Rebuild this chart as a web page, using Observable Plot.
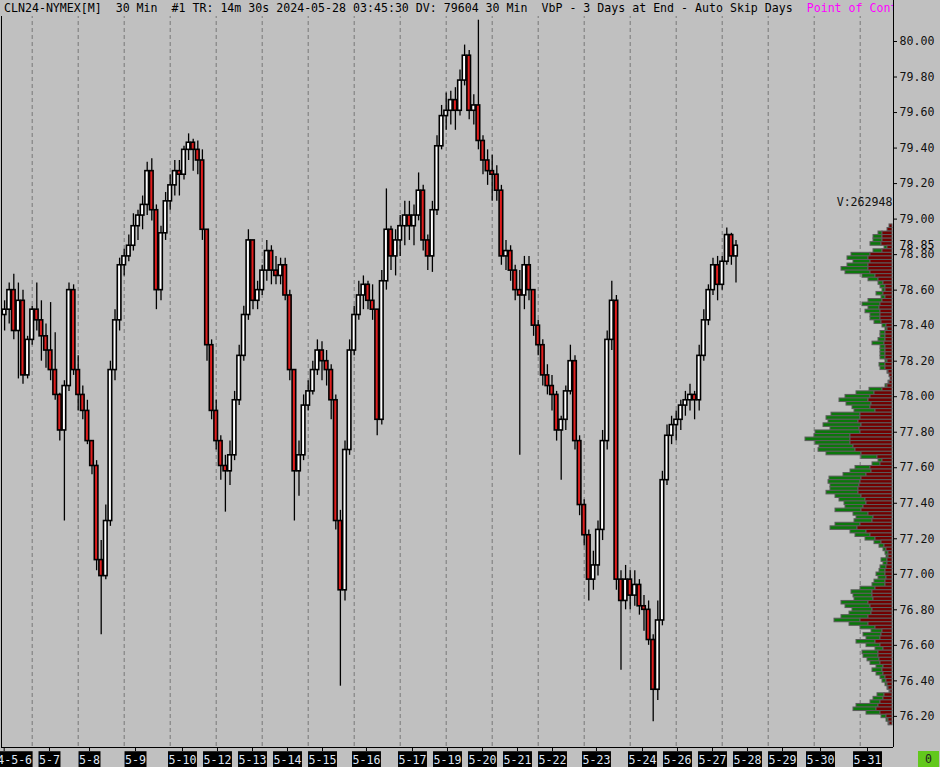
<!DOCTYPE html>
<html><head><meta charset="utf-8">
<script src="https://cdn.jsdelivr.net/npm/d3@7"></script>
<script src="https://cdn.jsdelivr.net/npm/@observablehq/plot@0.6"></script>
<style>
html,body{margin:0;padding:0;background:#c0c0c0;}
#wrap{position:relative;width:940px;height:767px;overflow:hidden;background:#c0c0c0;font-family:"DejaVu Sans Mono",monospace;}
#wrap svg{position:absolute;left:0;top:0;}
#title{position:absolute;left:0;top:0;width:889px;padding-left:4px;height:16px;line-height:16px;font-size:11.6px;white-space:pre;overflow:hidden;background:#c0c0c0;color:#000;z-index:5;}
#title .poc{color:#ff00ff;}
#zero{position:absolute;left:918px;top:751px;width:21px;height:16px;background:#62c81c;color:#222;font-size:11.6px;line-height:16px;text-align:center;z-index:5;}
</style></head>
<body><div id="wrap"></div>
<script>
// ---- candle data (30-min chart, read at reduced resolution) ----
const firstOpen = 78.46;
const highs = [78.54,78.64,78.69,78.64,78.60,78.34,78.51,78.64,78.54,78.41,
78.53,78.36,78.02,78.09,78.64,78.63,78.23,78.06,77.98,77.75,
77.64,77.19,77.39,78.20,78.49,78.78,78.83,78.91,79.03,79.05,
79.13,79.32,79.34,79.08,78.96,79.15,79.25,79.33,79.33,79.41,
79.48,79.45,79.44,79.39,78.94,78.32,77.98,77.78,77.67,77.75,
78.03,78.29,78.51,78.94,78.88,78.65,78.74,78.88,78.85,78.79,
78.78,78.78,78.60,78.15,77.75,78.01,78.09,78.20,78.32,78.31,
78.26,78.18,78.01,77.36,77.75,78.32,78.51,78.65,78.68,78.65,
78.63,78.49,78.71,79.17,78.96,78.94,79.02,79.10,79.10,79.08,
79.26,79.19,78.91,79.10,79.47,79.64,79.71,79.72,79.74,79.84,
79.98,79.95,79.70,80.12,79.47,79.39,79.36,79.30,79.19,78.88,
78.85,78.74,78.71,78.79,78.79,78.60,78.43,78.32,78.18,78.12,
78.03,77.89,78.06,78.29,78.23,77.78,77.42,77.25,77.13,77.30,
77.81,78.37,78.65,78.57,77.02,77.05,77.02,77.02,76.97,76.88,
76.85,76.66,76.85,77.58,77.84,77.89,77.92,77.98,78.03,78.07,
78.03,78.29,78.49,78.63,78.78,78.79,78.79,78.95,78.92,78.88];
const lows = [78.37,78.41,78.32,78.10,78.07,78.10,78.29,78.37,78.20,78.16,
78.09,77.98,77.75,77.30,78.03,78.12,77.92,77.87,77.73,77.56,
77.02,76.66,76.97,77.27,78.09,78.37,78.68,78.76,78.82,78.88,
78.94,79.02,78.99,78.49,78.54,78.88,79.05,79.13,79.13,79.22,
79.33,79.27,79.25,78.88,78.20,77.87,77.70,77.53,77.35,77.50,
77.64,77.95,78.20,78.43,78.49,78.49,78.57,78.65,78.63,78.63,
78.63,78.54,78.09,77.30,77.44,77.64,77.92,78.01,78.12,78.09,
78.06,77.87,77.25,76.37,76.85,77.67,78.23,78.43,78.49,78.49,
78.43,77.78,77.84,78.60,78.71,78.68,78.79,78.85,78.88,78.85,
78.99,78.82,78.71,78.70,79.02,79.39,79.50,79.53,79.50,79.58,
79.75,79.56,79.53,79.39,79.25,79.19,79.10,79.10,78.74,78.71,
78.65,78.54,77.67,78.49,78.54,78.34,78.23,78.06,78.01,77.92,
77.75,77.53,77.81,78.01,77.70,77.33,77.16,76.85,76.91,76.99,
77.19,77.70,78.26,76.91,76.46,76.80,76.80,76.82,76.77,76.68,
76.60,76.17,76.29,76.71,77.50,77.73,77.75,77.81,77.89,77.92,
77.87,77.92,78.20,78.40,78.57,78.54,78.60,78.74,78.74,78.64];
const closes = [78.49,78.60,78.37,78.54,78.12,78.32,78.49,78.43,78.34,78.26,
78.15,78.01,77.81,78.06,78.60,78.15,78.01,77.92,77.75,77.61,
77.08,76.99,77.30,78.15,78.43,78.74,78.79,78.85,78.96,79.02,
79.08,79.27,79.05,78.60,78.92,79.10,79.19,79.27,79.25,79.39,
79.43,79.39,79.33,78.94,78.29,77.92,77.75,77.61,77.58,77.67,
77.98,78.23,78.46,78.88,78.54,78.60,78.71,78.82,78.71,78.68,
78.74,78.57,78.15,77.58,77.67,77.95,78.03,78.15,78.26,78.20,
78.15,77.98,77.30,76.91,77.70,78.26,78.46,78.57,78.63,78.54,
78.49,77.87,78.65,78.94,78.79,78.88,78.96,79.02,78.96,79.02,
79.16,78.88,78.79,79.05,79.41,79.58,79.61,79.67,79.61,79.78,
79.92,79.61,79.64,79.44,79.33,79.27,79.25,79.16,78.79,78.82,
78.71,78.60,78.57,78.74,78.60,78.40,78.29,78.12,78.06,78.01,
77.81,77.87,78.03,78.20,77.75,77.39,77.22,76.97,77.05,77.25,
77.75,78.32,78.54,76.97,76.85,76.97,76.88,76.94,76.82,76.80,
76.63,76.35,76.74,77.53,77.78,77.84,77.87,77.95,77.98,78.01,
77.98,78.23,78.43,78.60,78.74,78.63,78.76,78.91,78.79,78.85];

// ---- axes ----
const gridTicks = [6.5,16.5,26.5,36.5,46.5,56.5,66.5,76.5,86.5,96.5,106.5,116.5,126.5,136.5,146.5,156.5,166.5,176.5,186.5];
const dateTicks = [0.41,10.26,18.96,28.96,39.17,46.78,54.39,62.0,69.61,79.17,89.17,96.78,104.39,112.0,119.61,129.17,139.17,146.78,154.39,162.0,169.61,177.87,188.09];
const dateLabels = ["2024-5-6","5-7","5-8","5-9","5-10","5-12","5-13","5-14","5-15","5-16","5-17","5-19","5-20","5-21","5-22","5-23","5-24","5-26","5-27","5-28","5-29","5-30","5-31"];
const priceTicks = [76.2,76.4,76.6,76.8,77.0,77.2,77.4,77.6,77.8,78.0,78.2,78.4,78.6,78.8,79.0,79.2,79.4,79.6,79.8,80.0];

// ---- volume by price (3 days at end) ----
const vpPrice = [78.96,78.94,78.92,78.90,78.88,78.86,78.84,78.82,78.80,78.78,
78.76,78.74,78.72,78.70,78.68,78.66,78.64,78.62,78.60,78.58,
78.56,78.54,78.52,78.50,78.48,78.46,78.44,78.42,78.40,78.38,
78.36,78.34,78.32,78.30,78.28,78.26,78.24,78.22,78.20,78.18,
78.16,78.14,78.12,78.10,78.08,78.06,78.04,78.02,78.00,77.98,
77.96,77.94,77.92,77.90,77.88,77.86,77.84,77.82,77.80,77.78,
77.76,77.74,77.72,77.70,77.68,77.66,77.64,77.62,77.60,77.58,
77.56,77.54,77.52,77.50,77.48,77.46,77.44,77.42,77.40,77.38,
77.36,77.34,77.32,77.30,77.28,77.26,77.24,77.22,77.20,77.18,
77.16,77.14,77.12,77.10,77.08,77.06,77.04,77.02,77.00,76.98,
76.96,76.94,76.92,76.90,76.88,76.86,76.84,76.82,76.80,76.78,
76.76,76.74,76.72,76.70,76.68,76.66,76.64,76.62,76.60,76.58,
76.56,76.54,76.52,76.50,76.48,76.46,76.44,76.42,76.40,76.38,
76.36,76.34,76.32,76.30,76.28,76.26,76.24,76.22,76.20,76.18,
76.16];
const vpTotal = [3,5,14,19,19,22,8,19,41,45,
39,45,51,47,30,24,14,12,10,16,
11,24,30,24,27,22,22,18,10,7,
12,12,14,20,12,12,12,12,7,13,
12,5,3,2,4,7,23,36,47,53,
46,40,38,61,66,64,69,62,77,78,
87,77,73,74,66,31,14,20,37,42,
49,63,64,62,62,66,57,53,48,47,
57,39,36,38,57,62,42,37,27,18,
13,9,7,6,11,9,12,13,16,14,
18,20,32,41,39,38,51,47,40,43,
51,58,43,32,21,29,26,36,26,17,
30,29,25,22,16,20,16,12,10,7,
5,3,15,19,22,36,39,26,11,6,
4];
const vpSell = [3,5,10,10,10,11,5,10,22,24,
22,24,24,22,17,14,9,7,7,9,
7,10,12,13,12,12,12,11,6,5,
7,7,7,8,7,7,7,7,5,7,
7,4,3,2,3,5,10,18,22,24,
21,22,17,32,32,34,31,33,32,42,
42,42,39,37,31,15,10,12,22,21,
26,31,32,33,34,34,31,27,26,29,
31,24,19,20,32,35,26,22,17,11,
8,6,4,4,5,5,6,7,7,6,
7,7,17,20,20,19,24,22,20,21,
24,32,24,17,10,11,12,17,12,9,
14,14,13,12,9,10,9,7,6,5,
4,2,8,9,12,14,16,12,6,4,
3];
const totalVolumeLabel = "V:262948";

// ---- build ----
const bars = closes.map((c, i) => ({t: i, open: i === 0 ? firstOpen : closes[i - 1], high: highs[i], low: lows[i], close: c}));
const up = bars.filter(d => d.close >= d.open);
const down = bars.filter(d => d.close < d.open);
const vp = vpPrice.map((p, i) => ({price: p, total: vpTotal[i], sell: vpSell[i]}));
const labelMap = new Map(dateTicks.map((t, i) => [t, dateLabels[i]]));

const yDomain = [76.0248, 80.2309];
const xDomain = [-0.174, 193.74];
const FONT = "DejaVu Sans Mono";
const common = {width: 940, height: 767, marginLeft: 1, marginRight: 47, marginTop: 0, marginBottom: 20};

const wrap = document.getElementById("wrap");

const bodyOpts = {x1: "t", x2: d => d.t + 1, y1: "open", y2: "close", insetLeft: 0.5, insetRight: 0.5, stroke: "#000", strokeWidth: 1.6};

const p1 = Plot.plot({
  ...common,
  style: {background: "#c0c0c0", fontFamily: FONT, fontSize: "11.6px", overflow: "visible"},
  x: {domain: xDomain, label: null},
  y: {domain: yDomain, label: null},
  marks: [
    Plot.ruleX(gridTicks, {stroke: "#777", strokeDasharray: "4,3"}),
    Plot.ruleX(bars, {x: d => d.t + 0.5, y1: "low", y2: "high", stroke: "#000", strokeWidth: 1.3}),
    Plot.rect(up, {...bodyOpts, fill: "#fff"}),
    Plot.rect(down, {...bodyOpts, fill: "#e01e1e"}),
    Plot.ruleX([xDomain[0], xDomain[1]], {stroke: "#000"}),
    Plot.ruleY([yDomain[0]], {stroke: "#000"}),
    Plot.axisY(priceTicks, {anchor: "right", tickSize: 3, tickPadding: 3, tickFormat: d => d.toFixed(2), fill: "#111", stroke: "#000", label: null}),
    Plot.axisX(dateTicks, {anchor: "bottom", tickSize: 4, tickPadding: 4, tickFormat: d => labelMap.get(d), fill: "#dfe6f5", stroke: "#000", label: null}),
    Plot.text([bars[bars.length - 1]], {y: "close", frameAnchor: "right", dx: 6, textAnchor: "start", text: d => d.close.toFixed(2), fill: "#000", ariaLabel: "last-price"})
  ]
});
wrap.appendChild(p1);

// label boxes behind date labels and the last price
function boxBehind(selector, color, px, py) {
  d3.select(p1).selectAll(selector).each(function () {
    const b = this.getBBox();
    const r = document.createElementNS("http://www.w3.org/2000/svg", "rect");
    r.setAttribute("x", b.x - px);
    r.setAttribute("y", b.y - py);
    r.setAttribute("width", b.width + 2 * px);
    r.setAttribute("height", b.height + 2 * py);
    r.setAttribute("fill", color);
    const tr = this.getAttribute("transform");
    if (tr) r.setAttribute("transform", tr);
    this.parentNode.insertBefore(r, this);
  });
}
boxBehind('g[aria-label="x-axis tick label"] text', "#000", 0.5, 1.5);
boxBehind('g[aria-label="last-price"] text', "#fff", 2, 0.8);

const p2 = Plot.plot({
  ...common,
  style: {background: "transparent", fontFamily: FONT, fontSize: "11.6px", overflow: "visible"},
  x: {domain: [0, 100], range: [892, 792], axis: null},
  y: {domain: yDomain, axis: null},
  marks: [
    Plot.rect(vp.filter(d => d.total > d.sell), {x1: "sell", x2: "total", y1: d => d.price - 0.01, y2: d => d.price + 0.01, fill: "#0b780b", stroke: "#5c5c5c", strokeWidth: 1}),
    Plot.rect(vp, {x1: 0, x2: "sell", y1: d => d.price - 0.01, y2: d => d.price + 0.01, fill: "#720000", stroke: "#5c5c5c", strokeWidth: 1}),
    Plot.text([vp[0]], {x: 0, y: "price", dy: -24, textAnchor: "end", text: () => totalVolumeLabel, fill: "#111"})
  ]
});
wrap.appendChild(p2);

const title = document.createElement("div");
title.id = "title";
title.innerHTML = 'CLN24-NYMEX[M]  30 Min  #1 TR: 14m 30s 2024-05-28 03:45:30 DV: 79604 30 Min  VbP - 3 Days at End - Auto Skip Days  <span class="poc">Point of Control</span>';
wrap.appendChild(title);

const zero = document.createElement("div");
zero.id = "zero";
zero.textContent = "0";
wrap.appendChild(zero);
</script>
</body></html>
